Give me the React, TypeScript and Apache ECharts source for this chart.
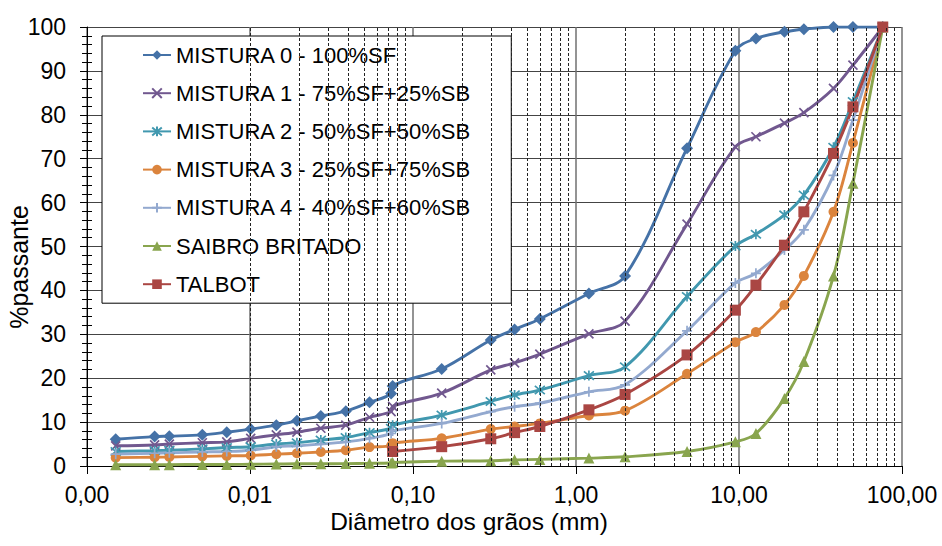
import React, { useEffect, useRef } from "react";
import * as echarts from "echarts";

// Grain diameters (mm)
const diameters = [0.0015, 0.0026, 0.0032, 0.0051, 0.0072, 0.0101, 0.0145, 0.0194, 0.0272, 0.0387, 0.0541, 0.0734, 0.075, 0.15, 0.3, 0.42, 0.6, 1.2, 2.0, 4.8, 9.5, 12.7, 19, 25, 38, 50, 76.2];
const talbotDiameters = [0.075, 0.15, 0.3, 0.42, 0.6, 1.2, 2.0, 4.8, 9.5, 12.7, 19, 25, 38, 50, 76.2];

// % passing
const mistura0 = [6.1, 6.7, 6.8, 7.1, 7.7, 8.4, 9.3, 10.3, 11.4, 12.5, 14.5, 16.5, 18.2, 22.1, 28.7, 31.1, 33.5, 39.3, 43.3, 72.4, 94.6, 97.4, 98.9, 99.5, 100, 100, 100];
const mistura1 = [4.6, 4.8, 5.0, 5.3, 5.5, 6.3, 7.1, 7.7, 8.6, 9.3, 11.1, 12.4, 13.6, 16.6, 21.9, 23.5, 25.5, 30.1, 33.0, 55.1, 72.7, 75.0, 78.1, 80.5, 86.0, 91.3, 100];
const mistura2 = [3.3, 3.5, 3.6, 3.9, 4.2, 4.4, 5.0, 5.3, 5.9, 6.5, 7.6, 8.6, 9.3, 11.6, 14.7, 16.2, 17.3, 20.6, 22.6, 38.6, 50.1, 52.8, 57.2, 61.7, 72.6, 83.0, 100];
const mistura3 = [1.9, 2.0, 2.05, 2.2, 2.3, 2.4, 2.7, 2.9, 3.2, 3.6, 4.3, 4.6, 5.2, 6.3, 8.4, 9.0, 9.7, 11.5, 12.6, 21.0, 28.2, 30.5, 36.7, 43.3, 57.9, 73.6, 100];
const mistura4 = [2.7, 2.9, 3.0, 3.2, 3.3, 3.6, 4.4, 4.6, 5.0, 5.5, 6.3, 7.4, 8.0, 9.7, 12.4, 13.5, 14.3, 16.9, 18.5, 30.8, 41.7, 43.9, 49.2, 53.8, 66.2, 78.8, 100];
const saibro = [0.3, 0.3, 0.3, 0.35, 0.35, 0.4, 0.45, 0.5, 0.5, 0.55, 0.6, 0.7, 0.8, 1.1, 1.2, 1.4, 1.5, 1.8, 2.1, 3.3, 5.5, 7.4, 15.4, 23.8, 43.3, 64.4, 100];
const talbot = [3.3, 4.4, 6.2, 7.6, 9.0, 12.8, 16.3, 25.3, 35.5, 41.2, 50.3, 57.9, 71.2, 81.8, 100];

const seriesNames = [
  "MISTURA 0 - 100%SF",
  "MISTURA 1 - 75%SF+25%SB",
  "MISTURA 2 - 50%SF+50%SB",
  "MISTURA 3 - 25%SF+75%SB",
  "MISTURA 4 - 40%SF+60%SB",
  "SAIBRO BRITADO",
  "TALBOT",
];

// log grid helpers
const decades = [0.001, 0.01, 0.1, 1, 10];
const minorMultipliers = [2, 3, 4, 5, 6, 7, 8, 9];

const FONT = "'Liberation Sans', Arial, sans-serif";

export default function App() {
  const ref = useRef<HTMLDivElement>(null);

  useEffect(() => {
    document.body.style.margin = "0";
    if (!ref.current) return;
    const chart = echarts.init(ref.current, undefined, { renderer: "svg" });

    const pairs = (xs: number[], ys: number[]) => xs.map((x, i) => [x, ys[i]]);
    const minorX: number[] = [];
    decades.forEach((d) => minorMultipliers.forEach((m) => minorX.push(+(d * m).toPrecision(3))));

    const strokeSym = (c: string) => ({ color: c, borderColor: c, borderWidth: 1.7 });

    const mk = (name: string, data: number[][], color: string, symbol: string, size: number, stroked = false) => ({
      name,
      type: "line",
      data,
      smooth: 0.35,
      symbol,
      symbolSize: size,
      z: 3,
      lineStyle: { color, width: 2.9 },
      itemStyle: stroked ? strokeSym(color) : { color, borderWidth: 0 },
      emphasis: { disabled: true },
    });

    const option: any = {
      animation: false,
      textStyle: { fontFamily: FONT, color: "#000" },
      grid: { left: 87, top: 27, right: 40, bottom: 80 },
      legend: {
        data: seriesNames,
        orient: "vertical",
        left: 102,
        top: 36,
        padding: [8, 40, 8, 40],
        itemGap: 16.2,
        itemWidth: 28,
        itemHeight: 12,
        backgroundColor: "#fff",
        borderColor: "#000",
        borderWidth: 1,
        borderRadius: 0,
        textStyle: { fontSize: 22, lineHeight: 22, color: "#000", fontFamily: FONT },
        selectedMode: false,
      },
      xAxis: {
        type: "log",
        logBase: 10,
        min: 0.001,
        max: 100,
        axisLine: { lineStyle: { color: "#000", width: 1 } },
        axisTick: { show: true, length: 8, lineStyle: { color: "#000" } },
        axisLabel: {
          fontSize: 23,
          lineHeight: 22,
          color: "#000",
          margin: 18,
          fontFamily: FONT,
          formatter: (v: number) => v.toFixed(2).replace(".", ","),
        },
        splitLine: { show: true, lineStyle: { color: "#707070", width: 1.5 } },
      },
      yAxis: [
        {
          type: "value",
          min: 0,
          max: 100,
          interval: 10,
          axisLine: { show: true, lineStyle: { color: "#000", width: 1 } },
          axisTick: { show: true, length: 7, lineStyle: { color: "#000" } },
          minorTick: { show: true, splitNumber: 5, length: 5, lineStyle: { color: "#000" } },
          axisLabel: { fontSize: 23, color: "#000", margin: 21, fontFamily: FONT },
          splitLine: { show: true, lineStyle: { color: "#444", width: 1.2 } },
        },
        {
          type: "value",
          min: 0,
          max: 100,
          interval: 10,
          position: "left",
          axisLine: { show: false },
          axisTick: { show: false, inside: true },
          minorTick: { show: true, splitNumber: 5, length: 5, lineStyle: { color: "#000" } },
          axisLabel: { show: false },
          splitLine: { show: false },
        },
      ],
      graphic: [
        {
          type: "text",
          x: 19,
          y: 267,
          rotation: Math.PI / 2,
          style: { text: "%passante", fontSize: 25, fontFamily: FONT, fill: "#000", align: "center", verticalAlign: "middle" },
        },
        {
          type: "text",
          x: 469,
          y: 521,
          style: { text: "Diâmetro dos grãos (mm)", fontSize: 24.5, lineHeight: 22, fontFamily: FONT, fill: "#000", align: "center", verticalAlign: "middle" },
        },
      ],
      series: [
        {
          name: "__minorgrid",
          type: "line",
          data: [],
          z: 1,
          silent: true,
          markLine: {
            silent: true,
            symbol: ["none", "none"],
            label: { show: false },
            lineStyle: { color: "#222", type: [3, 2], width: 1 },
            emphasis: { disabled: true },
            data: minorX.map((v) => ({ xAxis: v })),
          },
        },
        mk(seriesNames[0], pairs(diameters, mistura0), "#4572A7", "diamond", 12),
        mk(seriesNames[1], pairs(diameters, mistura1), "#71588F", "path://M0,0L10,10M10,0L0,10", 9, true),
        mk(seriesNames[2], pairs(diameters, mistura2), "#4198AF", "path://M0,0L10,10M10,0L0,10M5,-1L5,11", 10, true),
        mk(seriesNames[3], pairs(diameters, mistura3), "#DB843D", "circle", 10),
        mk(seriesNames[4], pairs(diameters, mistura4), "#93A9CF", "path://M5,0L5,10M0,5L10,5", 10, true),
        mk(seriesNames[5], pairs(diameters, saibro), "#89A54E", "triangle", 11),
        mk(seriesNames[6], pairs(talbotDiameters, talbot), "#AA4643", "rect", 11),
      ],
    };

    chart.setOption(option);
    return () => chart.dispose();
  }, []);

  return <div ref={ref} style={{ width: 942, height: 546 }} />;
}
